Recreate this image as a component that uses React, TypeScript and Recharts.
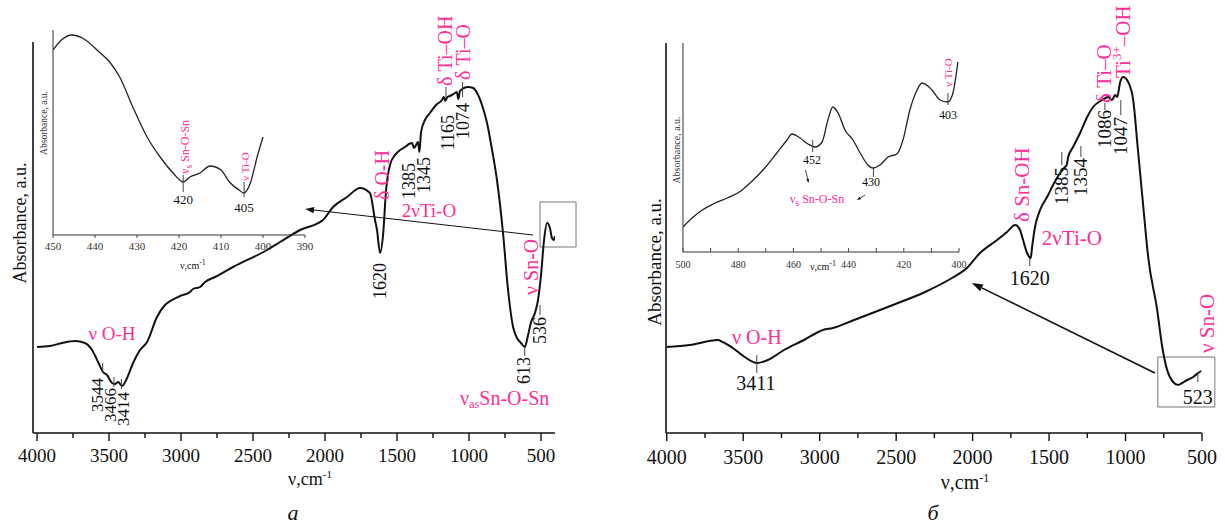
import React from 'react';
import { LineChart, Line, XAxis, YAxis, ReferenceDot, ReferenceLine, ReferenceArea } from 'recharts';

const FONT = '"Liberation Serif", "Times New Roman", serif';
const INK = '#111111';
const PINK = '#ff2d95';

// panel а: main spectrum (wavenumber, absorbance a.u.)
const aWave = [4000, 3910, 3826, 3736, 3667, 3618, 3576, 3542, 3514, 3479, 3458, 3437, 3410, 3375, 3333, 3285, 3236, 3167, 3111, 3062, 3007, 2938, 2917, 2868, 2833, 2764, 2639, 2403, 2312, 2174, 2014, 1944, 1847, 1757, 1688, 1653, 1639, 1618, 1597, 1576, 1549, 1514, 1479, 1444, 1417, 1396, 1382, 1368, 1354, 1345, 1333, 1306, 1271, 1229, 1188, 1175, 1165, 1150, 1132, 1097, 1085, 1074, 1063, 1035, 1007, 972, 944, 910, 875, 840, 806, 764, 729, 694, 667, 639, 613, 590, 569, 542, 521, 500, 479, 458, 438, 424, 410, 404];
const aAbs = [86, 87, 90, 92, 90, 83, 71, 61, 58, 50, 49, 51, 47, 55, 70, 83, 91, 116, 128, 133, 137, 141, 144, 146, 151, 156, 166, 183, 191, 203, 213, 226, 236, 245, 240, 213, 203, 180, 198, 243, 268, 278, 283, 286, 289, 290, 285, 288, 291, 281, 301, 313, 320, 328, 333, 336, 332, 336, 337, 340, 341, 334, 342, 345, 346, 345, 340, 328, 310, 283, 253, 200, 143, 106, 95, 90, 86, 98, 111, 120, 133, 158, 193, 210, 205, 195, 193, 197];

// panel а: inset 450-400 cm-1
const aInsetWave = [450, 448, 445.5, 443, 439, 436.5, 434, 431, 427.6, 424.5, 421.4, 419, 417.4, 415, 412.6, 410, 408, 405.7, 404.6, 403, 401.4, 400];
const aInsetAbs = [185, 195, 200, 197, 183, 173, 157, 128, 98, 78, 62, 53, 58, 62, 69, 65, 53, 45, 42, 52, 78, 98];

// panel б: main spectrum
const bWave = [4000, 3850, 3666, 3634, 3568, 3490, 3411, 3339, 3234, 3103, 2979, 2914, 2776, 2521, 2311, 2135, 2037, 1952, 1840, 1775, 1722, 1690, 1670, 1644, 1620, 1611, 1592, 1559, 1513, 1474, 1428, 1396, 1385, 1375, 1343, 1297, 1251, 1212, 1153, 1114, 1088, 1068, 1055, 1035, 1016, 983, 950, 920, 885, 852, 793, 760, 728, 689, 656, 630, 597, 558, 525, 505];
const bAbs = [86, 88, 93, 91, 85, 76, 70, 73, 83, 93, 103, 105, 113, 128, 141, 155, 165, 180, 193, 201, 208, 203, 193, 180, 175, 186, 206, 223, 236, 248, 260, 266, 268, 276, 286, 300, 316, 326, 333, 336, 333, 338, 336, 351, 356, 351, 333, 285, 228, 176, 123, 86, 63, 51, 48, 50, 53, 56, 60, 62];

// panel б: inset 500-400 cm-1
const bInsetWave = [500, 496.7, 493, 489, 484, 479, 475.7, 471, 466, 462.3, 460.5, 457.6, 454.7, 452.2, 449.6, 447.5, 445.7, 443.8, 441.3, 438.4, 436, 433, 431.2, 428.6, 425.7, 422.5, 420.3, 417.8, 415.2, 413.4, 409.8, 406.9, 404, 402.2, 400.4];
const bInsetAbs = [25, 34, 42, 48, 54, 61, 69, 82, 99, 112, 118, 114, 108, 105, 110, 132, 145, 139, 122, 112, 100, 87, 84, 87, 95, 98, 112, 142, 162, 169, 162, 152, 150, 159, 190];

const mainTicks = [4000, 3750, 3500, 3250, 3000, 2750, 2500, 2250, 2000, 1750, 1500, 1250, 1000, 750, 500];
const aInsetTicks = [450, 440, 430, 420, 410, 400, 390];
const bInsetTicks = [500, 490, 480, 470, 460, 450, 440, 430, 420, 410, 400];

const zip = (w: number[], a: number[]) => w.map((v, i) => ({ w: v, a: a[i] }));

type Note = {
  x: number; y: number; t: string; sub?: string; sup?: string; tail?: string;
  c?: string; s: number; rot?: boolean; anc?: 'start' | 'middle' | 'end';
};
type Mark = [number, number, number];
type Arrow = { from: [number, number]; to: [number, number]; head: number; sw: number };

const noteShape = (n: Note) => (p: any) => {
  const { cx, cy } = p;
  const sh = n.s * 0.32;
  const small = n.s < 15 ? 0.78 : 0.62;
  return (
    <text
      x={cx}
      y={cy}
      transform={n.rot ? `rotate(-90 ${cx} ${cy})` : undefined}
      fill={n.c ?? INK}
      fontSize={n.s}
      fontFamily={FONT}
      textAnchor={n.anc ?? 'middle'}
      dominantBaseline="central"
    >
      {n.t}
      {n.sub && <tspan fontSize={n.s * small} dy={sh}>{n.sub}</tspan>}
      {n.sup && <tspan fontSize={n.s * small} dy={-sh}>{n.sup}</tspan>}
      {n.tail && <tspan dy={n.sub ? -sh : n.sup ? sh : 0}>{n.tail}</tspan>}
    </text>
  );
};

const arrowShape = (head: number, sw: number) => (p: any) => {
  const { x1, y1, x2, y2 } = p;
  const ang = Math.atan2(y2 - y1, x2 - x1);
  const bx = x2 - head * Math.cos(ang);
  const by = y2 - head * Math.sin(ang);
  const nx = -Math.sin(ang) * head * 0.35;
  const ny = Math.cos(ang) * head * 0.35;
  return (
    <g>
      <line x1={x1} y1={y1} x2={bx} y2={by} stroke={INK} strokeWidth={sw} />
      <polygon points={`${x2},${y2} ${bx + nx},${by + ny} ${bx - nx},${by - ny}`} fill={INK} />
    </g>
  );
};

const mainTick = (gap: number, size: number) => (p: any) => {
  const v = p.payload.value;
  const major = v % 500 === 0;
  return (
    <g>
      <line x1={p.x} x2={p.x} y1={p.y} y2={p.y + (major ? 8 : 5)} stroke={INK} strokeWidth={1.4} />
      {major && (
        <text x={p.x} y={p.y + gap} textAnchor="middle" fontFamily={FONT} fontSize={size} fill={INK}>{v}</text>
      )}
    </g>
  );
};

const insetTick = (every: number, gap: number, size: number, len: number) => (p: any) => {
  const v = p.payload.value;
  return (
    <g>
      <line x1={p.x} x2={p.x} y1={p.y} y2={p.y + len} stroke="#444" strokeWidth={1} />
      {v % every === 0 && (
        <text x={p.x} y={p.y + gap} textAnchor="middle" fontFamily={FONT} fontSize={size} fill="#333">{v}</text>
      )}
    </g>
  );
};

// annotations, placed in data units
const aNotes: Note[] = [
  { x: 3479, y: 100, t: 'ν O-H', c: PINK, s: 19 },
  { x: 3583, y: 55, t: '3544', s: 17, rot: true, anc: 'end' },
  { x: 3493, y: 45, t: '3466', s: 17, rot: true, anc: 'end' },
  { x: 3403, y: 41, t: '3414', s: 17, rot: true, anc: 'end' },
  { x: 1604, y: 233, t: 'δ O-H', c: PINK, s: 20, rot: true, anc: 'start' },
  { x: 1618, y: 170, t: '1620', s: 18, rot: true, anc: 'end' },
  { x: 1417, y: 270, t: '1385', s: 18, rot: true, anc: 'end' },
  { x: 1313, y: 276, t: '1345', s: 18, rot: true, anc: 'end' },
  { x: 1278, y: 223, t: '2νTi-O', c: PINK, s: 19 },
  { x: 1167, y: 347, t: 'δ Ti–OH', c: PINK, s: 20, rot: true, anc: 'start' },
  { x: 1042, y: 353, t: 'δ Ti–O', c: PINK, s: 20, rot: true, anc: 'start' },
  { x: 1146, y: 318, t: '1165', s: 18, rot: true, anc: 'end' },
  { x: 1042, y: 330, t: '1074', s: 18, rot: true, anc: 'end' },
  { x: 569, y: 138, t: 'ν Sn-O', c: PINK, s: 20, rot: true, anc: 'start' },
  { x: 507, y: 116, t: '536', s: 18, rot: true, anc: 'end' },
  { x: 618, y: 76, t: '613', s: 18, rot: true, anc: 'end' },
  { x: 1063, y: 35, t: 'ν', sub: 'as', tail: 'Sn-O-Sn', c: PINK, s: 20, anc: 'start' },
];
const aMarks: Mark[] = [
  [3544, 70, 60], [3466, 56, 46], [3414, 54, 44], [1160, 346, 334], [1045, 351, 336], [613, 86, 77], [507, 128, 118],
];

const aInsetNotes: Note[] = [
  { x: 418.6, y: 61, t: 'ν', sub: 's', tail: ' Sn-O-Sn', c: PINK, s: 12, rot: true, anc: 'start' },
  { x: 419, y: 36, t: '420', s: 13 },
  { x: 404.3, y: 54, t: 'ν Ti-O', c: PINK, s: 11, rot: true, anc: 'start' },
  { x: 404.5, y: 28, t: '405', s: 13 },
  { x: 416.7, y: -30, t: 'ν,cm', sup: '-1', s: 10 },
];
const aInsetMarks: Mark[] = [[419, 60, 43], [404.5, 53, 38]];

const bNotes: Note[] = [
  { x: 3411, y: 96, t: 'ν O-H', c: PINK, s: 20 },
  { x: 3418, y: 50, t: '3411', s: 20 },
  { x: 1626, y: 155, t: '1620', s: 20 },
  { x: 1678, y: 211, t: 'δ Sn-OH', c: PINK, s: 21, rot: true, anc: 'start' },
  { x: 1351, y: 195, t: '2νTi-O', c: PINK, s: 21 },
  { x: 1417, y: 266, t: '1385', s: 19, rot: true, anc: 'end' },
  { x: 1292, y: 275, t: '1354', s: 19, rot: true, anc: 'end' },
  { x: 1135, y: 323, t: '1086', s: 19, rot: true, anc: 'end' },
  { x: 1031, y: 316, t: '1047', s: 19, rot: true, anc: 'end' },
  { x: 1142, y: 330, t: 'δ Ti–O', c: PINK, s: 21, rot: true, anc: 'start' },
  { x: 1018, y: 355, t: 'Ti', sup: '3+', tail: '–OH', c: PINK, s: 21, rot: true, anc: 'start' },
  { x: 468, y: 80, t: 'ν Sn-O', c: PINK, s: 21, rot: true, anc: 'start' },
  { x: 527, y: 36, t: '523', s: 20 },
];
const bMarks: Mark[] = [
  [3411, 78, 60], [1626, 175, 167], [1417, 281, 268], [1292, 287, 276], [1135, 330, 323], [1031, 333, 318], [527, 61, 51],
];

const bInsetNotes: Note[] = [
  { x: 453.3, y: 92, t: '452', s: 12 },
  { x: 431.9, y: 70, t: '430', s: 12 },
  { x: 461.2, y: 53, t: 'ν', sub: 's', tail: ' Sn-O-Sn', c: PINK, s: 12, anc: 'start' },
  { x: 404, y: 165, t: 'ν Ti-O', c: PINK, s: 11, rot: true, anc: 'start' },
  { x: 404, y: 137, t: '403', s: 12 },
  { x: 449.3, y: -14, t: 'ν,cm', sup: '-1', s: 10 },
];
const bInsetMarks: Mark[] = [[453, 112, 100], [431, 84, 75], [404, 159, 147]];

type SpecProps = {
  pos: [number, number, number, number];
  plot: [number, number, number, number];
  xDomain: [number, number];
  yDomain: [number, number];
  data: { w: number; a: number }[];
  ticks: number[];
  tick: any;
  lineWidth: number;
  lineColor: string;
  axisWidth: number;
  axisColor: string;
  notes: Note[];
  marks: Mark[];
  arrows: Arrow[];
  frame?: [number, number, number, number];
};

function Spectrum(p: SpecProps) {
  const [L, T, W, H] = p.pos;
  const [pl, pt, pr, pb] = p.plot;
  return (
    <div style={{ position: 'absolute', left: L, top: T }}>
      <LineChart
        width={W}
        height={H}
        data={p.data}
        margin={{ top: pt - T, right: L + W - pr, bottom: 0, left: 0 }}
      >
        <XAxis
          dataKey="w"
          type="number"
          domain={p.xDomain}
          reversed
          allowDataOverflow
          ticks={p.ticks}
          interval={0}
          tick={p.tick}
          tickLine={false}
          tickSize={0}
          tickMargin={0}
          height={T + H - pb}
          axisLine={{ stroke: p.axisColor, strokeWidth: p.axisWidth }}
        />
        <YAxis
          type="number"
          domain={p.yDomain}
          allowDataOverflow
          width={pl - L}
          tick={false}
          tickLine={false}
          axisLine={{ stroke: p.axisColor, strokeWidth: p.axisWidth }}
        />
        <Line
          dataKey="a"
          type="monotone"
          stroke={p.lineColor}
          strokeWidth={p.lineWidth}
          dot={false}
          isAnimationActive={false}
        />
        {p.frame && (
          <ReferenceArea
            x1={p.frame[0]}
            x2={p.frame[1]}
            y1={p.frame[2]}
            y2={p.frame[3]}
            ifOverflow="visible"
            fill="none"
            fillOpacity={0}
            stroke="#777"
            strokeWidth={1}
          />
        )}
        {p.marks.map((m, i) => (
          <ReferenceLine
            key={`m${i}`}
            segment={[{ x: m[0], y: m[1] }, { x: m[0], y: m[2] }]}
            stroke="#444"
            strokeWidth={1}
            ifOverflow="visible"
          />
        ))}
        {p.arrows.map((a, i) => (
          <ReferenceLine
            key={`a${i}`}
            segment={[{ x: a.from[0], y: a.from[1] }, { x: a.to[0], y: a.to[1] }]}
            ifOverflow="visible"
            shape={arrowShape(a.head, a.sw)}
          />
        ))}
        {p.notes.map((n, i) => (
          <ReferenceDot key={`n${i}`} x={n.x} y={n.y} r={0} ifOverflow="visible" shape={noteShape(n)} />
        ))}
      </LineChart>
    </div>
  );
}

function Txt(props: { x: number; y: number; size: number; rot?: boolean; italic?: boolean; color?: string; children: React.ReactNode }) {
  return (
    <div
      style={{
        position: 'absolute',
        left: props.x,
        top: props.y,
        transform: `translate(-50%, -50%)${props.rot ? ' rotate(-90deg)' : ''}`,
        fontFamily: FONT,
        fontSize: props.size,
        fontStyle: props.italic ? 'italic' : 'normal',
        color: props.color ?? INK,
        whiteSpace: 'nowrap',
        lineHeight: 1,
      }}
    >
      {props.children}
    </div>
  );
}

export default function App() {
  return (
    <div style={{ position: 'absolute', left: 0, top: 0, width: 1225, height: 524, background: '#ffffff', overflow: 'hidden' }}>
      <Spectrum
        pos={[0, 0, 600, 524]}
        plot={[33, 42, 555, 433]}
        xDomain={[403, 4028]}
        yDomain={[0, 391]}
        data={zip(aWave, aAbs)}
        ticks={mainTicks}
        tick={mainTick(29, 19)}
        lineWidth={2}
        lineColor={INK}
        axisWidth={1.6}
        axisColor={INK}
        notes={aNotes}
        marks={aMarks}
        arrows={[{ from: [556, 198], to: [2139, 224], head: 9, sw: 1 }]}
        frame={[507, 257, 186, 231]}
      />
      <Spectrum
        pos={[0, 0, 330, 280]}
        plot={[53, 30, 305, 235]}
        xDomain={[390, 450]}
        yDomain={[0, 205]}
        data={zip(aInsetWave, aInsetAbs)}
        ticks={aInsetTicks}
        tick={insetTick(10, 15, 11, 3)}
        lineWidth={1.3}
        lineColor="#222"
        axisWidth={1}
        axisColor="#333"
        notes={aInsetNotes}
        marks={aInsetMarks}
        arrows={[]}
      />
      <Spectrum
        pos={[600, 0, 625, 524]}
        plot={[666, 43, 1202, 433]}
        xDomain={[500, 4005]}
        yDomain={[0, 390]}
        data={zip(bWave, bAbs)}
        ticks={mainTicks}
        tick={mainTick(31, 20)}
        lineWidth={2}
        lineColor={INK}
        axisWidth={1.6}
        axisColor={INK}
        notes={bNotes}
        marks={bMarks}
        arrows={[{ from: [808, 60], to: [2005, 150], head: 11, sw: 1.6 }]}
        frame={[789, 416, 26, 76]}
      />
      <Spectrum
        pos={[600, 0, 400, 300]}
        plot={[683, 43, 959, 252]}
        xDomain={[400, 500]}
        yDomain={[0, 209]}
        data={zip(bInsetWave, bInsetAbs)}
        ticks={bInsetTicks}
        tick={insetTick(20, 16, 10, -4)}
        lineWidth={1.3}
        lineColor="#222"
        axisWidth={1}
        axisColor="#333"
        notes={bInsetNotes}
        marks={bInsetMarks}
        arrows={[
          { from: [455.6, 82], to: [454.5, 69], head: 4, sw: 0.8 },
          { from: [434, 57], to: [437, 52], head: 4, sw: 0.8 },
        ]}
      />

      <Txt x={20} y={223} size={18} rot>Absorbance, a.u.</Txt>
      <Txt x={45} y={123} size={9.5} rot color="#333">Absorbance, a.u.</Txt>
      <Txt x={310} y={478} size={18}>ν,cm<sup style={{ fontSize: 11 }}>-1</sup></Txt>
      <Txt x={293} y={513} size={22} italic>а</Txt>

      <Txt x={654} y={262} size={19} rot>Absorbance, a.u.</Txt>
      <Txt x={677} y={150} size={10} rot color="#333">Absorbance, a.u.</Txt>
      <Txt x={965} y={482} size={20}>ν,cm<sup style={{ fontSize: 12 }}>-1</sup></Txt>
      <Txt x={933} y={513} size={22} italic>б</Txt>
    </div>
  );
}
